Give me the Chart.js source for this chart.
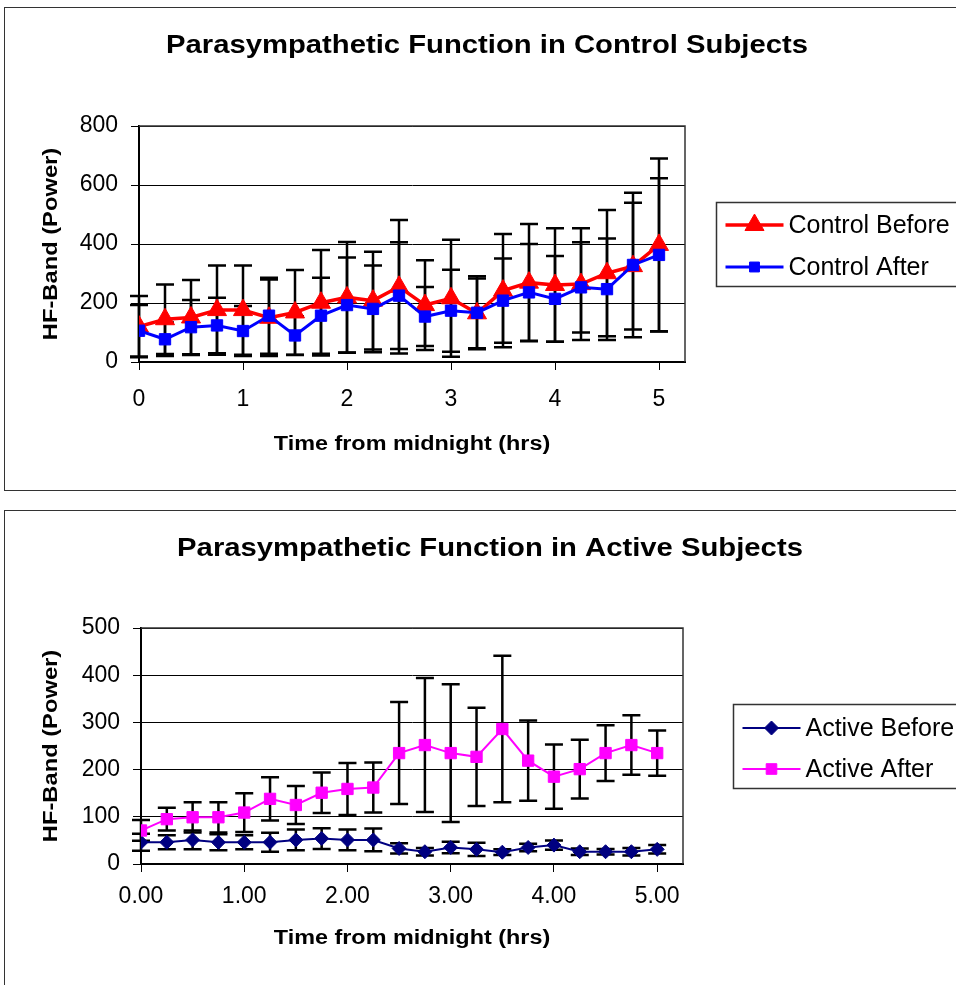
<!DOCTYPE html>
<html>
<head>
<meta charset="utf-8">
<script src="https://cdn.jsdelivr.net/npm/chart.js@4/dist/chart.umd.min.js"></script>
<style>
  body { margin: 0; background: #fff; overflow: hidden; }
  .frame { position: absolute; left: 4px; width: 1000px; border: 1px solid #333; }
  #frameTop { top: 7px; height: 482px; }
  #frameBottom { top: 510px; height: 600px; }
  canvas { position: absolute; left: 0; }
  #topChart { top: 0; }
  #bottomChart { top: 500px; }
</style>
</head>
<body>
<div class="frame" id="frameTop"></div>
<div class="frame" id="frameBottom"></div>
<canvas id="topChart" width="956" height="495"></canvas>
<canvas id="bottomChart" width="956" height="485"></canvas>
<script>
// hours after midnight, one reading every 15 min
const times = [0, 0.25, 0.5, 0.75, 1, 1.25, 1.5, 1.75, 2, 2.25, 2.5, 2.75, 3, 3.25, 3.5, 3.75, 4, 4.25, 4.5, 4.75, 5];
const xTicks = [0, 1, 2, 3, 4, 5];

// control subjects
const controlBefore = [120, 145, 151, 176, 176, 150, 168, 201, 219, 208, 255, 193, 216, 165, 242, 269, 261, 264, 301, 325, 397];
const controlBeforeErr = [104, 118, 127, 151, 151, 130, 144, 179, 188, 166, 226, 152, 198, 118, 192, 199, 192, 189, 214, 215, 293];
const controlAfter = [106, 77, 118, 124, 105, 157, 90, 157, 193, 180, 225, 154, 174, 167, 208, 236, 214, 253, 247, 329, 363];
const controlAfterErr = [87, 57, 92, 94, 85, 129, 65, 129, 161, 147, 181, 100, 139, 124, 143, 164, 145, 153, 172, 245, 260];
const controlYTicks = [0, 200, 400, 600, 800];

// active subjects
const activeBefore = [46, 46, 51, 46, 46, 46, 51, 54, 51, 51, 33, 26, 35, 31, 25, 35, 40, 26, 26, 26, 31];
const activeBeforeErr = [18, 15, 20, 17, 15, 20, 22, 22, 22, 24, 11, 8, 12, 14, 6, 8, 10, 7, 6, 8, 9];
const activeAfter = [71, 95, 99, 99, 109, 138, 125, 151, 159, 162, 235, 252, 235, 227, 286, 219, 185, 201, 235, 252, 235];
const activeAfterErr = [22, 24, 32, 32, 41, 46, 40, 43, 55, 53, 108, 142, 146, 104, 155, 85, 68, 62, 59, 63, 48];
const activeYTicks = [0, 100, 200, 300, 400, 500];

const FONT = '"Liberation Sans", Arial, sans-serif';

function points(vals) {
  return times.map((t, i) => ({ x: t, y: vals[i] }));
}

// stretched text, the original uses a wider face than Liberation
function wideText(ctx, text, x, y, font, stretch, rot) {
  ctx.save();
  ctx.translate(x, y);
  if (rot) ctx.rotate(rot);
  ctx.scale(stretch, 1);
  ctx.font = font;
  ctx.fillStyle = '#000';
  ctx.textAlign = 'center';
  ctx.textBaseline = 'middle';
  ctx.fillText(text, 0, 0);
  ctx.restore();
}

const extras = {
  id: 'extras',
  beforeDatasetsDraw(chart) {
    const { ctx, chartArea: a, scales: { x, y } } = chart;
    ctx.save();
    // plot area frame (top + right)
    ctx.strokeStyle = '#333';
    ctx.lineWidth = 1.5;
    ctx.beginPath();
    ctx.moveTo(a.left, a.top);
    ctx.lineTo(a.right, a.top);
    ctx.lineTo(a.right, a.bottom);
    ctx.stroke();

    // error bars
    ctx.strokeStyle = '#000';
    ctx.lineWidth = 2.5;
    chart.data.datasets.forEach(ds => {
      ds.err.forEach((e, i) => {
        const v = ds.data[i].y;
        const px = x.getPixelForValue(ds.data[i].x);
        const hi = y.getPixelForValue(v + e);
        const lo = y.getPixelForValue(Math.max(v - e, 0));
        ctx.beginPath();
        ctx.moveTo(px, hi);
        ctx.lineTo(px, lo);
        ctx.moveTo(px - 9, hi);
        ctx.lineTo(px + 9, hi);
        ctx.moveTo(px - 9, lo);
        ctx.lineTo(px + 9, lo);
        ctx.stroke();
      });
    });
    ctx.restore();
  },
  afterDraw(chart, args, opts) {
    const { ctx, chartArea: a } = chart;
    const midX = (a.left + a.right) / 2;
    const midY = (a.top + a.bottom) / 2;
    wideText(ctx, opts.title, opts.titleX, opts.titleY, 'bold 26px ' + FONT, 1.125);
    wideText(ctx, 'Time from midnight (hrs)', midX, opts.xTitleY, 'bold 20px ' + FONT, 1.17);
    wideText(ctx, 'HF-Band (Power)', 51, midY, 'bold 21px ' + FONT, 1.13, -Math.PI / 2);

    // legend
    const lg = opts.legend;
    ctx.save();
    ctx.strokeStyle = '#333';
    ctx.lineWidth = 1.5;
    ctx.strokeRect(lg.x, lg.y, 400, lg.h);
    chart.data.datasets.forEach((ds, i) => {
      const ly = lg.rows[i];
      ctx.strokeStyle = ds.borderColor;
      ctx.lineWidth = ds.borderWidth;
      ctx.beginPath();
      ctx.moveTo(lg.x + 9, ly);
      ctx.lineTo(lg.x + 67, ly);
      ctx.stroke();
      ctx.fillStyle = ds.borderColor;
      ctx.lineWidth = 1;
      Chart.helpers.drawPoint(ctx, { pointStyle: ds.pointStyle, radius: lg.radius[i], rotation: 0, borderWidth: 1 }, lg.x + 38, ly);
      ctx.fillStyle = '#000';
      ctx.font = '25px ' + FONT;
      ctx.textAlign = 'left';
      ctx.textBaseline = 'middle';
      ctx.fillText(ds.label, lg.x + 72, ly + 1);
    });
    ctx.restore();
  }
};

function makeChart(id, cfg) {
  const tickFont = { family: FONT, size: 23 };
  new Chart(document.getElementById(id), {
    type: 'line',
    data: { datasets: cfg.datasets },
    plugins: [extras],
    options: {
      responsive: false,
      animation: false,
      layout: { padding: { top: cfg.top, right: cfg.right, left: 0, bottom: 0 } },
      plugins: {
        legend: { display: false },
        tooltip: { enabled: false },
        extras: cfg.extras
      },
      scales: {
        x: {
          type: 'linear',
          min: 0,
          max: 5.25,
          afterBuildTicks: s => { s.ticks = xTicks.map(v => ({ value: v })); },
          afterFit: s => { s.height = cfg.xHeight; },
          grid: { drawOnChartArea: false, tickLength: 8, color: '#000' },
          border: { color: '#000', width: 2 },
          ticks: { font: tickFont, color: '#000', padding: cfg.xPad, maxRotation: 0, callback: cfg.xFmt }
        },
        y: {
          min: 0,
          max: cfg.yTicks[cfg.yTicks.length - 1],
          afterBuildTicks: s => { s.ticks = cfg.yTicks.map(v => ({ value: v })); },
          afterFit: s => { s.width = cfg.yWidth; },
          grid: { tickLength: 8, color: '#000', lineWidth: 1 },
          border: { color: '#000', width: 2 },
          ticks: { font: tickFont, color: '#000', padding: 13 }
        }
      }
    }
  });
}

makeChart('topChart', {
  top: 126, right: 271, xHeight: 133, yWidth: 139, xPad: 16,
  yTicks: controlYTicks,
  xFmt: v => String(v),
  datasets: [
    {
      label: 'Control Before', data: points(controlBefore), err: controlBeforeErr, order: 2,
      borderColor: '#ff0000', backgroundColor: '#ff0000', borderWidth: 3.5,
      pointStyle: 'triangle', pointRadius: 11, pointBorderWidth: 1
    },
    {
      label: 'Control After', data: points(controlAfter), err: controlAfterErr, order: 1,
      borderColor: '#0000ff', backgroundColor: '#0000ff', borderWidth: 3,
      pointStyle: 'rect', pointRadius: 8, pointBorderWidth: 1
    }
  ],
  extras: {
    title: 'Parasympathetic Function in Control Subjects', titleX: 487, titleY: 46, xTitleY: 444,
    legend: { x: 716.5, y: 202.5, h: 84, rows: [225, 267], radius: [11, 7] }
  }
});

makeChart('bottomChart', {
  top: 128, right: 273, xHeight: 121, yWidth: 141, xPad: 11,
  yTicks: activeYTicks,
  xFmt: v => v.toFixed(2),
  datasets: [
    {
      label: 'Active Before', data: points(activeBefore), err: activeBeforeErr, order: 2,
      borderColor: '#000080', backgroundColor: '#000080', borderWidth: 2,
      pointStyle: 'rectRot', pointRadius: 7, pointBorderWidth: 1
    },
    {
      label: 'Active After', data: points(activeAfter), err: activeAfterErr, order: 1,
      borderColor: '#ff00ff', backgroundColor: '#ff00ff', borderWidth: 2,
      pointStyle: 'rect', pointRadius: 8, pointBorderWidth: 1
    }
  ],
  extras: {
    title: 'Parasympathetic Function in Active Subjects', titleX: 490, titleY: 49, xTitleY: 438,
    legend: { x: 733.5, y: 204.5, h: 84, rows: [228, 269], radius: [7, 7.5] }
  }
});
</script>
</body>
</html>
